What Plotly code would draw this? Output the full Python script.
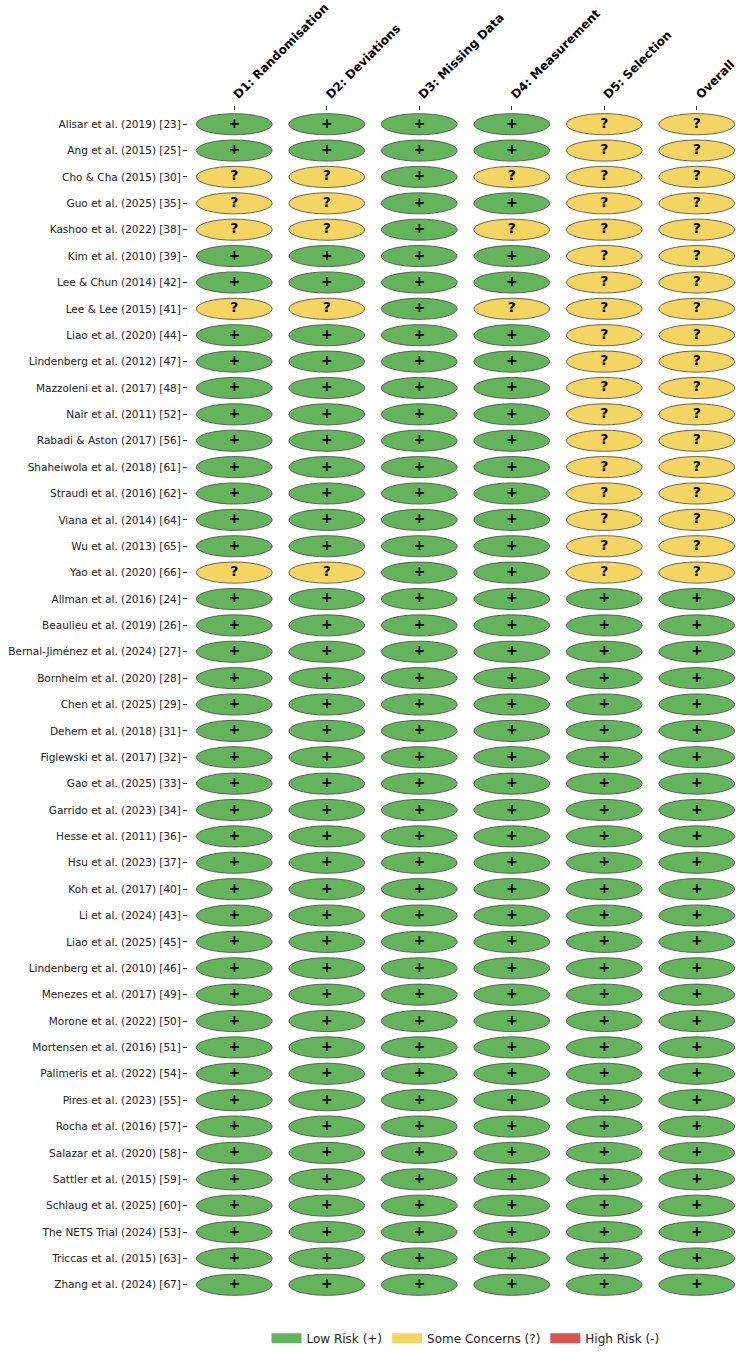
import plotly.graph_objects as go

studies = [
    "Alisar et al. (2019) [23]", "Ang et al. (2015) [25]", "Cho & Cha (2015) [30]",
    "Guo et al. (2025) [35]", "Kashoo et al. (2022) [38]", "Kim et al. (2010) [39]",
    "Lee & Chun (2014) [42]", "Lee & Lee (2015) [41]", "Liao et al. (2020) [44]",
    "Lindenberg et al. (2012) [47]", "Mazzoleni et al. (2017) [48]", "Nair et al. (2011) [52]",
    "Rabadi & Aston (2017) [56]", "Shaheiwola et al. (2018) [61]", "Straudi et al. (2016) [62]",
    "Viana et al. (2014) [64]", "Wu et al. (2013) [65]", "Yao et al. (2020) [66]",
    "Allman et al. (2016) [24]", "Beaulieu et al. (2019) [26]", "Bernal-Jiménez et al. (2024) [27]",
    "Bornheim et al. (2020) [28]", "Chen et al. (2025) [29]", "Dehem et al. (2018) [31]",
    "Figlewski et al. (2017) [32]", "Gao et al. (2025) [33]", "Garrido et al. (2023) [34]",
    "Hesse et al. (2011) [36]", "Hsu et al. (2023) [37]", "Koh et al. (2017) [40]",
    "Li et al. (2024) [43]", "Liao et al. (2025) [45]", "Lindenberg et al. (2010) [46]",
    "Menezes et al. (2017) [49]", "Morone et al. (2022) [50]", "Mortensen et al. (2016) [51]",
    "Palimeris et al. (2022) [54]", "Pires et al. (2023) [55]", "Rocha et al. (2016) [57]",
    "Salazar et al. (2020) [58]", "Sattler et al. (2015) [59]", "Schlaug et al. (2025) [60]",
    "The NETS Trial (2024) [53]", "Triccas et al. (2015) [63]", "Zhang et al. (2024) [67]",
]

domains = ["D1: Randomisation", "D2: Deviations", "D3: Missing Data",
           "D4: Measurement", "D5: Selection", "Overall"]

# Judgements per domain ("+" low risk, "?" some concerns, "-" high risk), in study order
d1 = ["+", "+", "?", "?", "?", "+", "+", "?", "+", "+", "+", "+", "+", "+", "+", "+", "+", "?"] + ["+"] * 27
d2 = ["+", "+", "?", "?", "?", "+", "+", "?", "+", "+", "+", "+", "+", "+", "+", "+", "+", "?"] + ["+"] * 27
d3 = ["+"] * 18 + ["+"] * 27
d4 = ["+", "+", "?", "+", "?", "+", "+", "?", "+", "+", "+", "+", "+", "+", "+", "+", "+", "+"] + ["+"] * 27
d5 = ["?"] * 18 + ["+"] * 27
overall = ["?"] * 18 + ["+"] * 27

judgements = [d1, d2, d3, d4, d5, overall]

risk_labels = ["Low Risk (+)", "Some Concerns (?)", "High Risk (-)"]
risk_symbols = ["+", "?", "-"]
risk_colors = ["#64b45c", "#f5d561", "#d9534f"]
color_of = dict(zip(risk_symbols, risk_colors))

fig = go.Figure()

shapes = []
tx, ty, tt = [], [], []
for ci, col in enumerate(judgements):
    for ri, val in enumerate(col):
        shapes.append(dict(
            type="circle", xref="x", yref="y",
            x0=ci - 0.41, x1=ci + 0.41, y0=ri - 0.4, y1=ri + 0.4,
            fillcolor=color_of[val], line=dict(color="#444444", width=0.8),
            layer="below",
        ))
        tx.append(ci)
        ty.append(ri)
        tt.append(val)

fig.add_trace(go.Scatter(
    x=tx, y=ty, text=tt, mode="text",
    textfont=dict(family="DejaVu Sans", size=14, color="black", weight="bold"),
    showlegend=False, hoverinfo="skip",
))

for lab, col in zip(risk_labels, risk_colors):
    fig.add_trace(go.Scatter(
        x=[None], y=[None], mode="lines", name=lab,
        line=dict(color=col, width=10),
    ))

fig.update_layout(
    width=750, height=1360,
    margin=dict(l=188, r=7, t=111, b=58),
    plot_bgcolor="white", paper_bgcolor="white",
    shapes=shapes,
    font=dict(family="DejaVu Sans", color="black"),
    showlegend=True,
    legend=dict(
        orientation="h", x=0.5, xanchor="center", y=-0.034, yanchor="middle",
        font=dict(family="DejaVu Sans", size=12, color="#222"),
        itemwidth=30, tracegroupgap=0,
    ),
    xaxis=dict(
        range=[-0.5, 5.5], side="top", tickmode="array",
        tickvals=list(range(len(domains))), ticktext=domains,
        tickangle=-45, showgrid=False, zeroline=False, showline=False,
        ticks="outside", ticklen=4, tickwidth=0.8, tickcolor="#333",
        tickfont=dict(family="DejaVu Sans", size=12, color="black", weight="bold"),
        fixedrange=True, automargin=False,
    ),
    yaxis=dict(
        range=[len(studies) - 0.5, -0.5], tickmode="array",
        tickvals=list(range(len(studies))), ticktext=studies,
        showgrid=False, zeroline=False, showline=False,
        ticks="outside", ticklen=4, tickwidth=0.8, tickcolor="#333",
        tickfont=dict(family="DejaVu Sans", size=10.5, color="#222"),
        fixedrange=True, automargin=False,
    ),
)

fig.write_html("out.html")
